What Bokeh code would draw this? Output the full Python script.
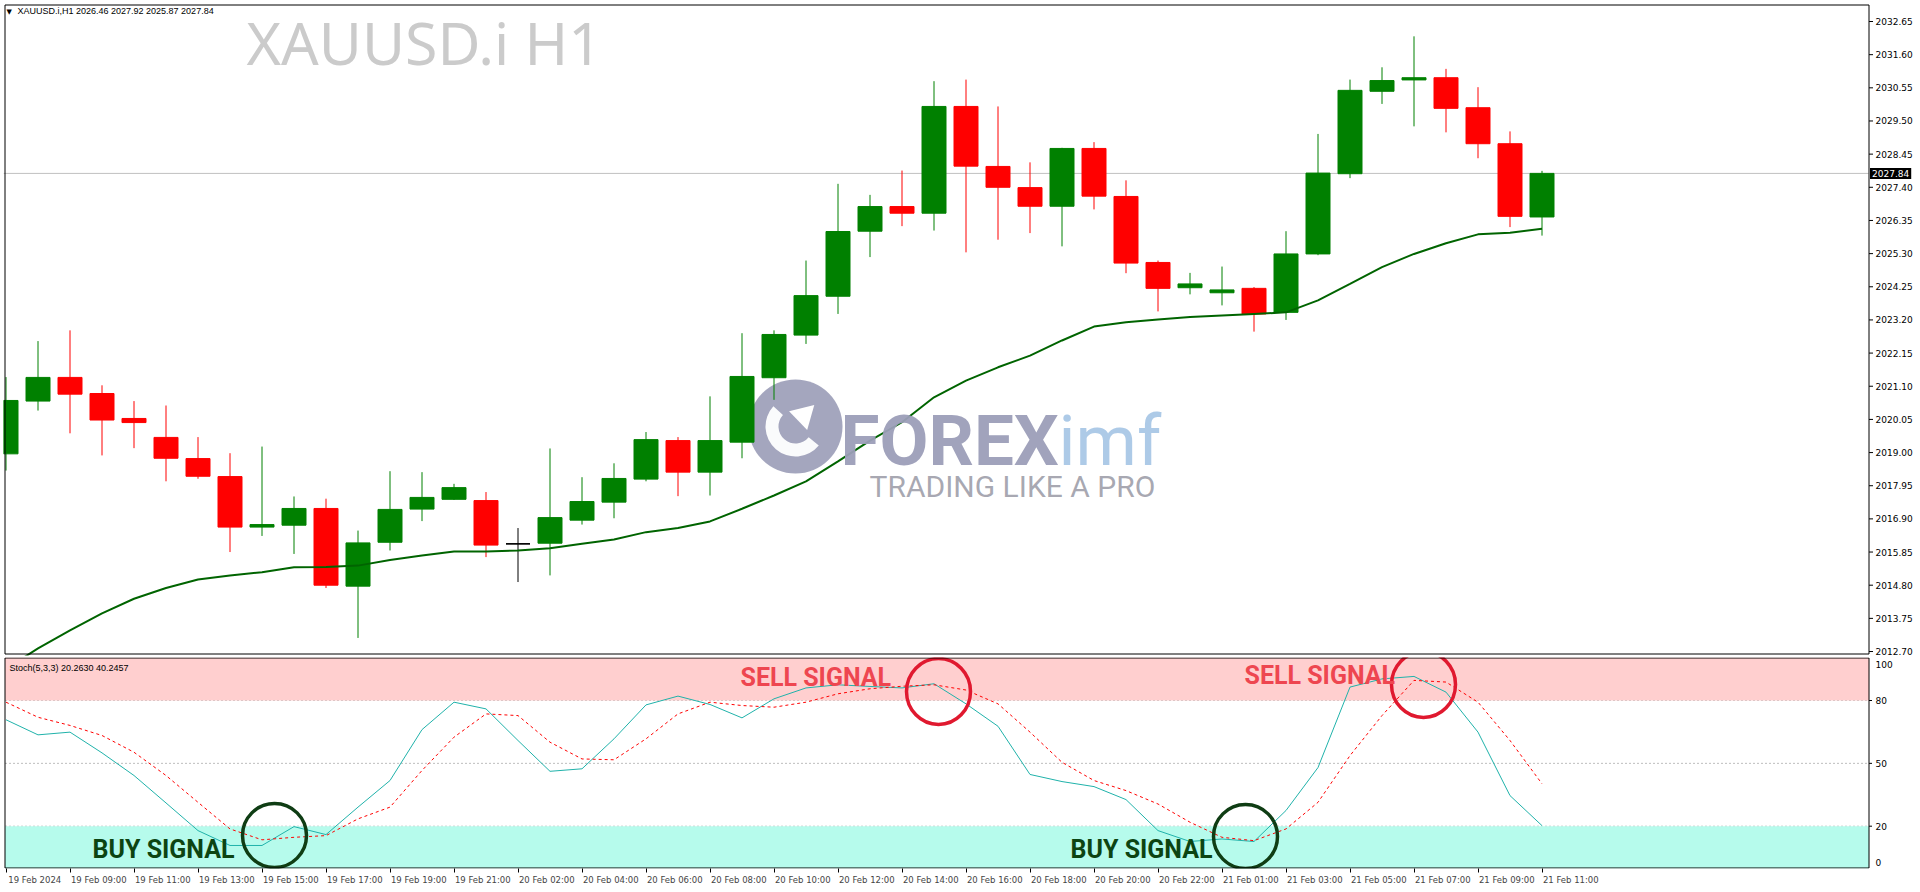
from bokeh.plotting import figure
from bokeh.models import (Range1d, FixedTicker, LinearAxis, BoxAnnotation, Label,
                          ColumnDataSource)
from bokeh.core.properties import value
from bokeh.layouts import column
from bokeh.embed import file_html
from bokeh.resources import INLINE

# ---------------- data (XAUUSD.i H1, 19 Feb 07:00 -> 21 Feb 11:00) ----------------
open_ = [2018.96, 2020.63, 2021.38, 2020.87, 2020.08, 2019.48, 2018.81, 2018.24, 2016.64, 2016.70,
         2017.23, 2014.77, 2016.16, 2017.21, 2017.52, 2017.48, 2016.11, 2016.13, 2016.86, 2017.43,
         2018.16, 2019.38, 2018.38, 2019.33, 2021.37, 2022.72, 2023.95, 2026.01, 2026.79, 2026.58,
         2029.96, 2028.06, 2027.39, 2026.80, 2028.63, 2027.11, 2025.02, 2024.22, 2024.06, 2024.20,
         2023.44, 2025.29, 2027.83, 2030.44, 2030.80, 2030.87, 2029.92, 2028.78, 2026.46]
high = [2021.39, 2022.53, 2022.87, 2021.13, 2020.63, 2020.49, 2019.49, 2018.98, 2019.19, 2017.61,
        2017.54, 2016.53, 2018.41, 2018.38, 2018.01, 2017.75, 2016.61, 2019.13, 2018.22, 2018.66,
        2019.65, 2019.49, 2020.78, 2022.78, 2022.87, 2025.08, 2027.51, 2027.16, 2027.93, 2030.76,
        2030.81, 2029.96, 2028.19, 2028.65, 2028.83, 2027.62, 2025.08, 2024.69, 2024.89, 2024.24,
        2026.01, 2029.09, 2030.81, 2031.20, 2032.18, 2031.15, 2030.57, 2029.17, 2027.92]
low = [2018.43, 2020.33, 2019.61, 2018.91, 2019.14, 2018.09, 2018.17, 2015.85, 2016.36, 2015.79,
       2014.71, 2013.13, 2015.90, 2016.83, 2017.50, 2015.69, 2014.90, 2015.11, 2016.72, 2016.92,
       2018.09, 2017.62, 2017.64, 2018.82, 2020.67, 2022.44, 2023.39, 2025.19, 2026.17, 2026.03,
       2025.34, 2025.74, 2025.95, 2025.53, 2026.70, 2024.68, 2023.47, 2024.01, 2023.66, 2022.83,
       2023.20, 2025.25, 2027.69, 2030.04, 2029.33, 2029.14, 2028.32, 2026.14, 2025.87]
close = [2020.65, 2021.38, 2020.85, 2020.03, 2019.95, 2018.82, 2018.25, 2016.64, 2016.72, 2017.23,
         2014.80, 2016.14, 2017.20, 2017.58, 2017.89, 2016.07, 2016.11, 2016.94, 2017.45, 2018.18,
         2019.41, 2018.38, 2019.38, 2021.41, 2022.74, 2023.97, 2026.00, 2026.79, 2026.58, 2029.96,
         2028.07, 2027.40, 2026.80, 2028.63, 2027.12, 2025.00, 2024.20, 2024.34, 2024.15, 2023.39,
         2025.29, 2027.85, 2030.47, 2030.78, 2030.87, 2029.90, 2028.78, 2026.48, 2027.84]
ma = [2012.15, 2012.80, 2013.37, 2013.91, 2014.37, 2014.71, 2014.98, 2015.11, 2015.21, 2015.37,
      2015.38, 2015.42, 2015.60, 2015.74, 2015.87, 2015.87, 2015.90, 2015.97, 2016.11, 2016.25,
      2016.48, 2016.61, 2016.82, 2017.22, 2017.64, 2018.09, 2018.72, 2019.38, 2019.96, 2020.75,
      2021.28, 2021.70, 2022.07, 2022.55, 2022.99, 2023.13, 2023.21, 2023.29, 2023.34, 2023.39,
      2023.44, 2023.82, 2024.34, 2024.87, 2025.29, 2025.63, 2025.91, 2025.96, 2026.09]
stoch_k = [70.8, 63.6, 64.9, 55.0, 44.2, 31.1, 17.9, 10.8, 10.8, 19.8,
           16.0, 29.1, 41.8, 66.1, 79.2, 76.0, 60.9, 46.2, 47.4, 61.7,
           77.9, 82.1, 78.1, 71.7, 80.8, 86.0, 87.5, 86.7, 86.0, 88.0,
           78.4, 67.7, 44.7, 41.3, 38.9, 32.7, 17.9, 12.7, 13.9, 12.7,
           27.5, 48.0, 86.4, 90.3, 91.5, 84.0, 64.9, 34.6, 20.2630]
stoch_d = [79.2, 72.0, 68.1, 63.3, 55.3, 44.2, 31.4, 18.7, 13.5, 14.7,
           15.5, 23.5, 29.1, 46.6, 62.5, 73.6, 72.8, 60.1, 52.1, 51.7,
           61.7, 73.6, 79.2, 77.6, 76.8, 79.2, 83.2, 85.6, 86.8, 87.5,
           85.0, 78.4, 64.9, 50.5, 41.8, 37.0, 30.6, 21.9, 14.7, 13.1,
           18.7, 31.4, 53.7, 72.8, 89.6, 88.8, 79.2, 60.9, 40.2457]

price_ticks = [2012.70, 2013.75, 2014.80, 2015.85, 2016.90, 2017.95, 2019.00, 2020.05, 2021.10,
               2022.15, 2023.20, 2024.25, 2025.30, 2026.35, 2027.40, 2028.45, 2029.50, 2030.55,
               2031.60, 2032.65]
price_tick_labels = ["2012.70", "2013.75", "2014.80", "2015.85", "2016.90", "2017.95", "2019.00",
                     "2020.05", "2021.10", "2022.15", "2023.20", "2024.25", "2025.30", "2026.35",
                     "2027.40", "2028.45", "2029.50", "2030.55", "2031.60", "2032.65"]
time_tick_bars = [0, 2, 4, 6, 8, 10, 12, 14, 16, 18, 20, 22, 24, 26, 28, 30, 32, 34, 36, 38, 40,
                  42, 44, 46, 48]
time_labels = ["19 Feb 2024", "19 Feb 09:00", "19 Feb 11:00", "19 Feb 13:00", "19 Feb 15:00",
               "19 Feb 17:00", "19 Feb 19:00", "19 Feb 21:00", "20 Feb 02:00", "20 Feb 04:00",
               "20 Feb 06:00", "20 Feb 08:00", "20 Feb 10:00", "20 Feb 12:00", "20 Feb 14:00",
               "20 Feb 16:00", "20 Feb 18:00", "20 Feb 20:00", "20 Feb 22:00", "21 Feb 01:00",
               "21 Feb 03:00", "21 Feb 05:00", "21 Feb 07:00", "21 Feb 09:00", "21 Feb 11:00"]
stoch_levels = [20, 50, 80]
stoch_tick_labels = ["0", "20", "50", "80", "100"]
stoch_tick_pos = [2.7, 20, 50, 80, 97.2]

# ---------------- layout constants ----------------
W = 1920
PX_PER_BAR = 32.0
BULL, BEAR, DOJI = "#008000", "#ff0000", "#000000"
AX_FONT = "DejaVu Sans"


def rb(xpx):  # reference pixel x -> bar coordinate
    return (xpx - 5.5) / 32.0


def rp(ypx):  # reference pixel y -> price
    return 2032.65 - (ypx - 21.0) / 31.58


def rs(ypx):  # reference pixel y -> stochastic value
    return (867.6 - ypx) / 2.095


AXIS_X = 1868          # page x of the price-scale line
LB, RB = 3, 3          # both panels: the frame also covers the price-scale strip
x0 = rb(LB)
x1 = x0 + (W - LB - RB) / PX_PER_BAR
xr = Range1d(x0, x1)
x_axis = rb(AXIS_X + 0.5)

M_TOP, M_FRAME_H, M_BOT = 3, 652, 2
MAIN_H = M_TOP + M_FRAME_H + M_BOT          # 657
S_FRAME_H, S_BOT = 211, 23
STOCH_H = S_FRAME_H + S_BOT                 # 234 -> total 891

n = len(open_)
idx = list(range(n))

# ---------------- main price panel ----------------
p = figure(width=W, height=MAIN_H, x_range=xr, y_range=Range1d(rp(M_TOP + M_FRAME_H), rp(M_TOP)),
           output_backend="svg", toolbar_location=None, min_border_left=LB, min_border_right=RB,
           min_border_top=M_TOP, min_border_bottom=M_BOT, x_axis_location=None,
           y_axis_location=None)
p.grid.visible = False
p.outline_line_color = None
p.background_fill_color = "white"
p.border_fill_color = "white"

# chart border; its right edge is the price-scale line
p.add_layout(BoxAnnotation(left=rb(4.5), right=x_axis, top=rp(4.5), bottom=rp(653.5),
                           fill_color=None, fill_alpha=0, line_color="black", line_alpha=1,
                           line_width=1, level="overlay"))

# price scale: tick marks and labels placed through the y scale
p.segment(x0=[x_axis] * len(price_ticks), y0=price_ticks,
          x1=[rb(AXIS_X + 4.5)] * len(price_ticks), y1=price_ticks, line_color="black", line_width=1)
p.text(x=[rb(AXIS_X + 7)] * len(price_ticks), y=price_ticks, text=price_tick_labels,
       text_font=value(AX_FONT), text_font_size=value("9px"), text_color="black",
       text_baseline="middle", text_align="left")

# watermark
p.add_layout(Label(x=rb(246), y=rp(41), text="XAUUSD.i H1", text_font="Noto Sans",
                   text_font_size="59px", text_color="#cbcbcb", text_baseline="middle"))

# logo watermark
cx, cy = rb(795), rp(426)
p.scatter([cx], [cy], size=94, marker="circle", fill_color="#9c9eb8", line_color=None, fill_alpha=0.92)
p.annular_wedge([cx], [cy], inner_radius=17, outer_radius=30, inner_radius_units="screen",
                outer_radius_units="screen", start_angle=2.4, end_angle=5.6,
                fill_color="white", line_color=None, fill_alpha=0.95)
p.scatter([cx + 0.25], [cy + 0.35], size=26, marker="triangle", angle=-0.8,
          fill_color="white", line_color=None)
p.add_layout(Label(x=rb(840), y=rp(440), text="FOREX", text_font="Roboto", text_font_style="bold",
                   text_font_size="71px", text_color="#9c9eb8", text_alpha=0.95,
                   text_baseline="middle"))
p.add_layout(Label(x=rb(1058), y=rp(440), text="imf", text_font="Roboto",
                   text_font_size="70px", text_color="#a9c7e6", text_alpha=0.95,
                   text_baseline="middle"))
p.add_layout(Label(x=rb(869), y=rp(486), text="TRADING LIKE A PRO", text_font="Roboto",
                   text_font_size="30px", text_color="#a3a3ad", text_alpha=0.95,
                   text_baseline="middle"))

# current price line (stops at the price scale)
p.segment(x0=[x0], y0=[close[-1]], x1=[rb(AXIS_X)], y1=[close[-1]], line_color="#c0c0c0",
          line_width=1, level="underlay")

top = [max(o, c) for o, c in zip(open_, close)]
bot = [min(o, c) for o, c in zip(open_, close)]
col = [BULL if c > o else (BEAR if c < o else DOJI) for o, c in zip(open_, close)]
src = ColumnDataSource(dict(x=idx, o=open_, h=high, l=low, c=close, top=top, bot=bot, color=col))
p.segment(x0="x", y0="l", x1="x", y1="h", line_color="color", line_width=1, source=src)
p.vbar(x="x", width=0.75, top="top", bottom="bot", fill_color="color", line_color="color",
       line_width=1, source=src)
dj = [i for i in idx if open_[i] == close[i]]
p.segment(x0=[i - 0.375 for i in dj], y0=[open_[i] for i in dj], x1=[i + 0.375 for i in dj],
          y1=[open_[i] for i in dj], line_color=DOJI, line_width=1)

p.line(idx, ma, line_color="#006400", line_width=2)

# header text
p.add_layout(Label(x=rb(6), y=rp(11), text="\u25BC", text_font="DejaVu Sans", text_font_size="7px",
                   text_color="black", text_baseline="middle"))
p.add_layout(Label(x=rb(17), y=rp(10),
                   text=f"XAUUSD.i,H1  {open_[-1]:.2f} {high[-1]:.2f} {low[-1]:.2f} {close[-1]:.2f}",
                   text_font="Liberation Sans", text_font_size="9px", text_color="black",
                   text_baseline="middle"))
# current price box on the price scale
p.add_layout(Label(x=rb(AXIS_X + 1.5), y=close[-1], text=f"{close[-1]:.2f}",
                   text_font=AX_FONT, text_font_size="9px", text_color="white",
                   background_fill_color="black", background_fill_alpha=1,
                   text_baseline="middle", text_align="left", padding=2))

# ---------------- stochastic panel ----------------
s = figure(width=W, height=STOCH_H, x_range=xr, y_range=Range1d(rs(657 + S_FRAME_H), rs(657)),
           output_backend="svg", toolbar_location=None, min_border_left=LB, min_border_right=RB,
           min_border_top=0, min_border_bottom=S_BOT, x_axis_location=None,
           y_axis_location=None)
s.grid.visible = False
s.outline_line_color = None
s.background_fill_color = "white"
s.border_fill_color = "white"

s.add_layout(BoxAnnotation(left=rb(4.5), right=x_axis, bottom=80, top=rs(657),
                           fill_color="#ffcfcf", fill_alpha=1, line_color=None, level="underlay"))
s.add_layout(BoxAnnotation(left=rb(4.5), right=x_axis, bottom=rs(868), top=20,
                           fill_color="#b6fbec", fill_alpha=1, line_color=None, level="underlay"))
s.segment(x0=[rb(4.5)] * 3, y0=stoch_levels, x1=[x_axis] * 3, y1=stoch_levels,
          line_color="#bdbdbd", line_width=1, line_dash="2 2", level="underlay")
s.add_layout(BoxAnnotation(left=rb(4.5), right=x_axis, top=rs(657.5), bottom=rs(867.5),
                           fill_color=None, fill_alpha=0, line_color="black", line_alpha=1,
                           line_width=1, level="overlay"))

s.line(idx, stoch_k, line_color="#20b2aa", line_width=1)
s.line(idx, stoch_d, line_color="#ff0000", line_width=1, line_dash="3 3")

# stochastic scale labels
s.segment(x0=[x_axis] * 3, y0=stoch_levels, x1=[rb(AXIS_X + 3.5)] * 3, y1=stoch_levels,
          line_color="black", line_width=1)
s.text(x=[rb(AXIS_X + 7)] * len(stoch_tick_pos), y=stoch_tick_pos, text=stoch_tick_labels,
       text_font=value(AX_FONT), text_font_size=value("9px"), text_color="black",
       text_baseline="middle", text_align="left")

s.add_layout(Label(x=rb(9), y=rs(667),
                   text=f"Stoch(5,3,3) {stoch_k[-1]:.4f} {stoch_d[-1]:.4f}",
                   text_font="Liberation Sans", text_font_size="9px", text_color="black",
                   text_baseline="middle"))

# signal annotations
SIG_FONT = "Roboto"
for xx, yy, t, c in [(740, 676.5, "SELL SIGNAL", "#ee4650"), (1244, 674.5, "SELL SIGNAL", "#ee4650"),
                     (92, 849, "BUY SIGNAL", "#0c4412"), (1070, 849, "BUY SIGNAL", "#0c4412")]:
    s.add_layout(Label(x=rb(xx), y=rs(yy), text=t, text_font=SIG_FONT, text_font_style="bold",
                       text_font_size="25px", text_color=c, text_baseline="middle"))

s.ellipse(x=[rb(938), rb(1423)], y=[rs(691), rs(684)], width=64, height=66,
          width_units="screen", height_units="screen", fill_color=None,
          line_color="#e0192f", line_width=3.5)
s.ellipse(x=[rb(274), rb(1245)], y=[rs(835), rs(836)], width=64, height=64,
          width_units="screen", height_units="screen", fill_color=None,
          line_color="#0f3d14", line_width=3.5)

LAB_OFF = 0.9
major = [round(b + LAB_OFF, 3) for b in time_tick_bars]
xax = LinearAxis(ticker=FixedTicker(ticks=major, minor_ticks=time_tick_bars))
xax.major_label_overrides = {m: t for m, t in zip(major, time_labels)}
xax.major_label_text_font = AX_FONT
xax.major_label_text_font_size = "8.5px"
xax.major_tick_line_color = None
xax.major_tick_in = 0
xax.major_tick_out = 4
xax.minor_tick_in = 0
xax.minor_tick_out = 4
xax.minor_tick_line_color = "black"
xax.major_label_standoff = 2
xax.axis_line_color = None
s.add_layout(xax, "below")

layout = column(p, s, spacing=0)
open("out.html", "w").write(file_html(layout, INLINE))
